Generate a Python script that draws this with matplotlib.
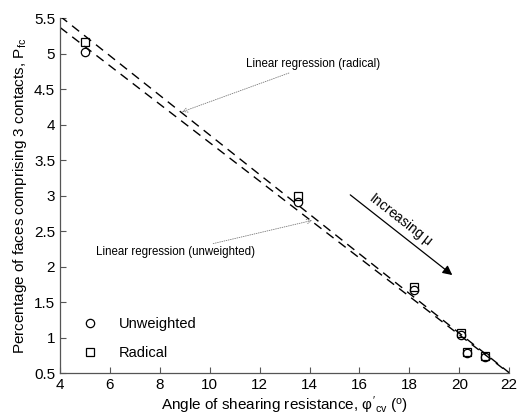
import matplotlib.pyplot as plt
import numpy as np

plt.rcParams['font.family'] = ['Liberation Sans', 'DejaVu Sans']
plt.rcParams['mathtext.fontset'] = 'custom'
plt.rcParams['mathtext.rm'] = 'Liberation Sans'
plt.rcParams['mathtext.it'] = 'Liberation Sans'

# angle of shearing resistance (deg)
phi_cv = np.array([5.0, 13.55, 18.2, 20.05, 20.3, 21.05])
# percentage of faces with 3 contacts
pfc_unweighted = np.array([5.02, 2.91, 1.67, 1.04, 0.78, 0.72])
pfc_radical = np.array([5.17, 2.99, 1.71, 1.06, 0.80, 0.74])

fig = plt.figure(figsize=(5.18, 4.17), dpi=100)
ax = fig.add_axes([0.116, 0.1055, 0.867, 0.851])

# regression lines
x_fit = np.array([4.0, 22.0])
for y in (pfc_radical, pfc_unweighted):
    m, c = np.polyfit(phi_cv, y, 1)
    ax.plot(x_fit, m * x_fit + c, color='black', lw=1.0, ls=(0, (6.5, 4.5)))

ax.plot(phi_cv, pfc_unweighted, 'o', mfc='none', mec='black', ms=6, mew=0.9,
        label='Unweighted')
ax.plot(phi_cv, pfc_radical, 's', mfc='none', mec='black', ms=5.5, mew=0.9,
        label='Radical')

ax.set_xlim(4, 22)
ax.set_ylim(0.5, 5.5)
ax.set_xticks(np.arange(4, 23, 2))
ax.set_yticks(np.arange(0.5, 5.6, 0.5))
ax.set_yticklabels(['0.5', '1', '1.5', '2', '2.5', '3', '3.5', '4', '4.5', '5', '5.5'])
ax.tick_params(direction='in', length=4, width=0.8, color='#555555', labelsize=11)
for s in ('top', 'right'):
    ax.spines[s].set_visible(False)
for s in ('left', 'bottom'):
    ax.spines[s].set_color('#555555')
    ax.spines[s].set_linewidth(0.9)

ax.set_xlabel("Angle of shearing resistance, $\\varphi'_{cv}$ ($^{\\rm o}$)", fontsize=11, labelpad=2)
ax.set_ylabel('Percentage of faces comprising 3 contacts, P$_{\\rm fc}$', fontsize=11, labelpad=4)

arrow = dict(arrowstyle='->', color='#777777', lw=0.6, ls=':', shrinkA=0, shrinkB=0)
ax.annotate('Linear regression (radical)', xy=(8.89, 4.18), xytext=(11.45, 4.85),
            fontsize=8.3, va='center', ha='left', arrowprops=arrow)
ax.annotate('Linear regression (unweighted)', xy=(14.1, 2.65), xytext=(5.45, 2.2),
            fontsize=8.3, va='center', ha='left', arrowprops=arrow)

ax.annotate('', xy=(19.72, 1.88), xytext=(15.63, 3.01),
            arrowprops=dict(arrowstyle='-|>', color='black', lw=0.9,
                            mutation_scale=14, shrinkA=0, shrinkB=0))
ax.text(17.65, 2.66, 'Increasing $\\mu$', rotation=-38, fontsize=10,
        ha='center', va='center', rotation_mode='anchor')

ax.legend(loc='lower left', bbox_to_anchor=(0.03, 0.02), frameon=False,
          fontsize=10.5, labelspacing=1.0, handletextpad=1.2, handlelength=1.5,
          borderaxespad=0)

fig.savefig('out.png', dpi=100)
